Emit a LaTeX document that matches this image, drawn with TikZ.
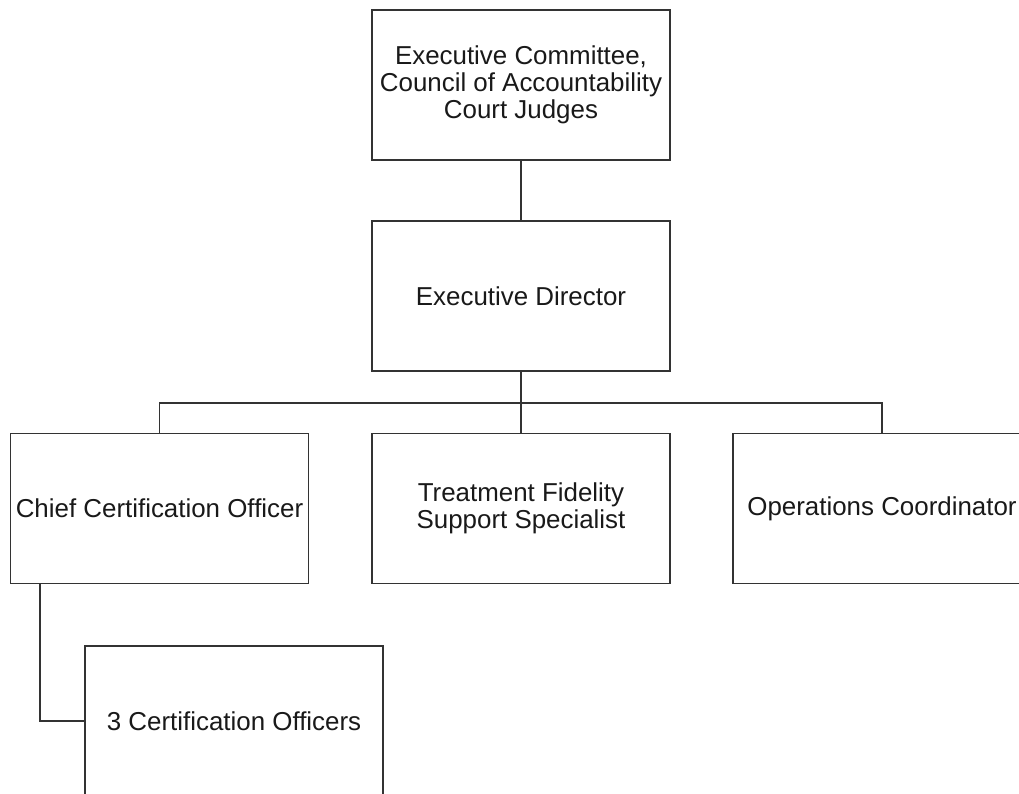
\documentclass[tikz,border=0pt]{standalone}
\usepackage{fontspec}
\setmainfont{Liberation Sans}
\begin{document}
\begin{tikzpicture}[x=1pt,y=-1pt,
  orgbox/.style={draw=black!80, line width=1.3pt, minimum width=298pt, minimum height=150pt,
    inner sep=0pt, align=center, font=\fontsize{25.9}{26.7}\selectfont, text=black!90},
  link/.style={draw=black!80, line width=1.3pt}]
\useasboundingbox (0,0) rectangle (1019,794);
\node[orgbox] (exec) at (521,85) {Executive Committee,\\Council of Accountability\\Court Judges};
\node[orgbox] (dir) at (521,296) {Executive Director};
\node[orgbox] (cco) at (159.5,508.5) {Chief Certification Officer};
\node[orgbox] (tfs) at (521,508.5) {Treatment Fidelity\\Support Specialist};
\node[orgbox] (ops) at (882,508.5) {Operations Coordinator};
\node[orgbox] (co) at (234,721) {3 Certification Officers};
\coordinate (bus) at (521,403);
\draw[link] (exec.south) -- (dir.north);
\draw[link] (dir.south) -- (bus);
\draw[link] (cco.north) |- (bus) -| (ops.north);
\draw[link] (bus) -- (tfs.north);
\draw[link] ([xshift=30pt]cco.south west) |- (co.west);
\end{tikzpicture}
\end{document}
